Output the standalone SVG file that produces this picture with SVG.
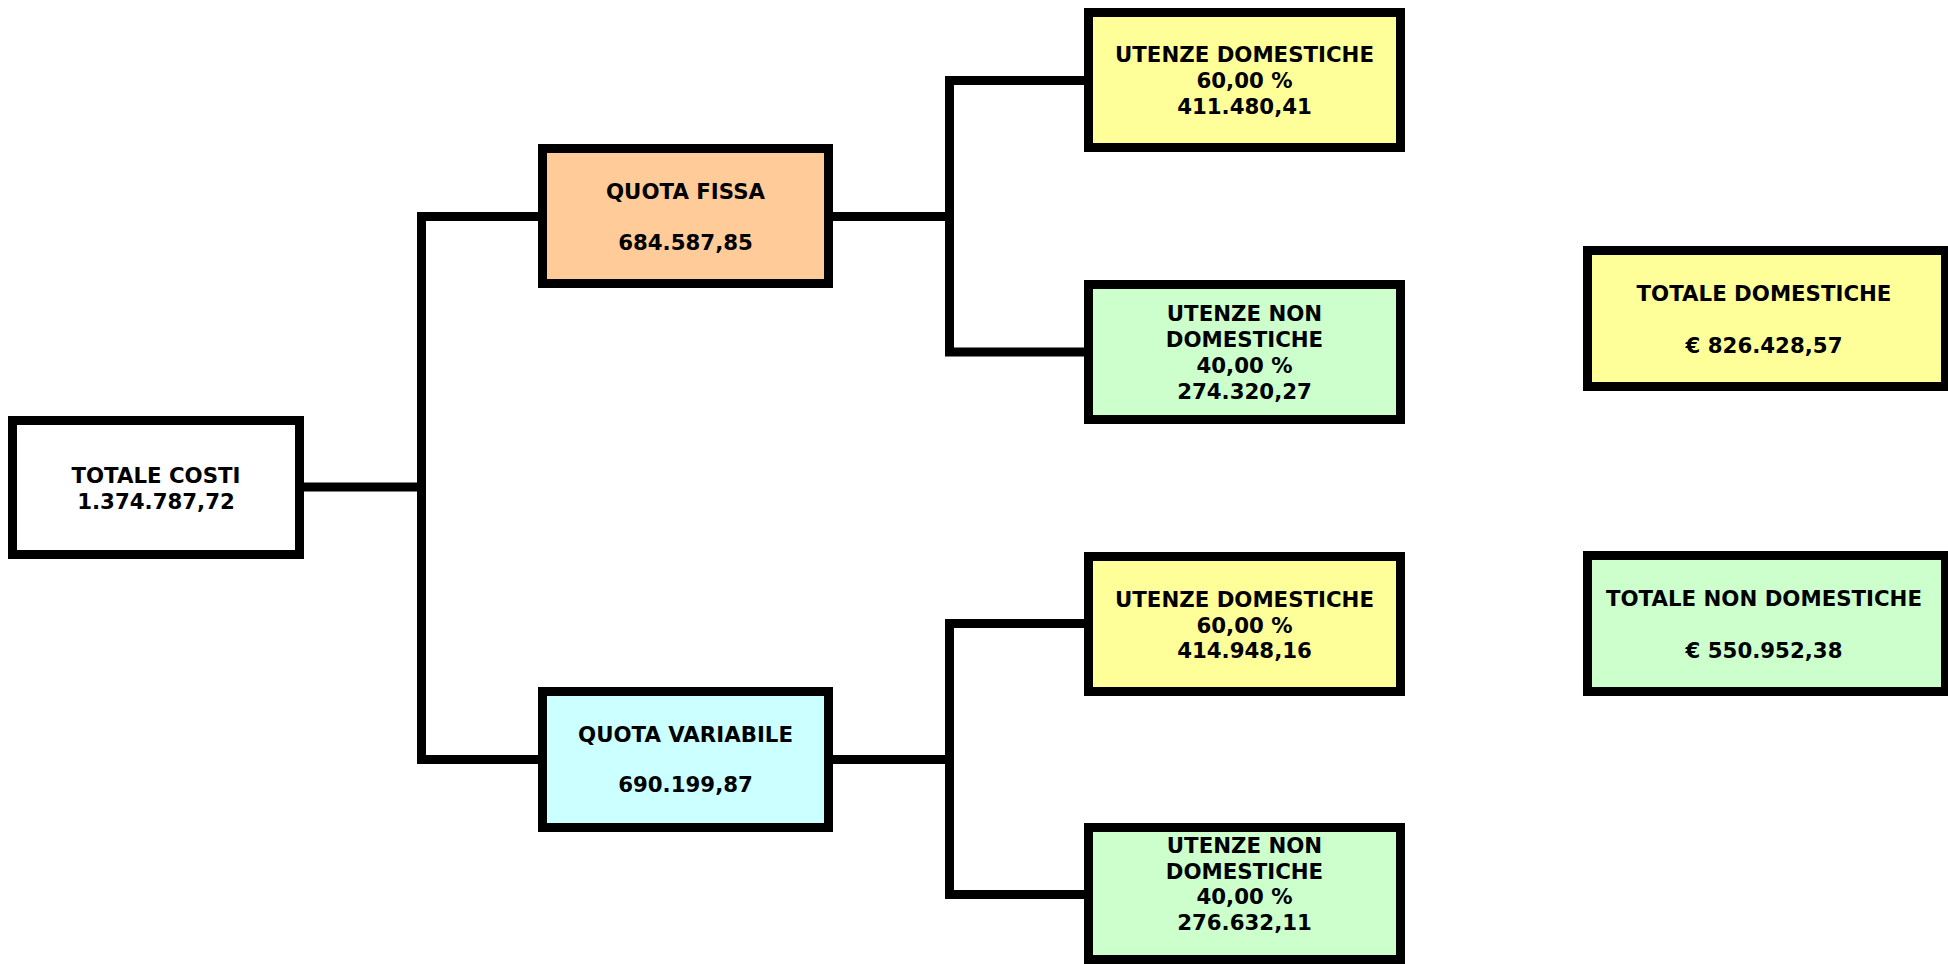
<svg xmlns="http://www.w3.org/2000/svg" width="1948" height="964" viewBox="0 0 1948 964">
<style>
.box{stroke:#000;stroke-width:9;}
.w{fill:#FFFFFF}.o{fill:#FFCC99}.c{fill:#CCFFFF}.y{fill:#FFFF99}.g{fill:#CCFFCC}
text{font-family:"DejaVu Sans",Verdana,sans-serif;font-weight:bold;font-size:21.3px;fill:#000;text-anchor:middle}
.ln{fill:none;stroke:#000;stroke-width:9;stroke-linejoin:miter;stroke-linecap:butt}
</style>
<rect width="1948" height="964" fill="#FFFFFF"/>
<g id="connectors">
<path class="ln" d="M304,487 H421.5"/>
<path class="ln" d="M538,216.5 H421.5 V759.5 H538"/>
<path class="ln" d="M833,216.5 H949.5"/>
<path class="ln" d="M1084,80.5 H949.5 V352 H1084"/>
<path class="ln" d="M833,759.5 H949.5"/>
<path class="ln" d="M1084,623.5 H949.5 V894.5 H1084"/>
</g>
<g id="totale-costi">
<rect class="box w" x="12.5" y="420.5" width="287" height="134"/>
<text x="156" y="483">TOTALE COSTI</text>
<text x="156" y="509">1.374.787,72</text>
</g>
<g id="quota-fissa">
<rect class="box o" x="542.5" y="148.5" width="286" height="135"/>
<text x="685.5" y="199">QUOTA FISSA</text>
<text x="685.5" y="250">684.587,85</text>
</g>
<g id="quota-variabile">
<rect class="box c" x="542.5" y="691.5" width="286" height="136"/>
<text x="685.5" y="742">QUOTA VARIABILE</text>
<text x="685.5" y="792">690.199,87</text>
</g>
<g id="fissa-domestiche">
<rect class="box y" x="1088.5" y="12.5" width="312" height="135"/>
<text x="1244.5" y="62">UTENZE DOMESTICHE</text>
<text x="1244.5" y="88">60,00 %</text>
<text x="1244.5" y="114">411.480,41</text>
</g>
<g id="fissa-non-domestiche">
<rect class="box g" x="1088.5" y="284.5" width="312" height="135"/>
<text x="1244.5" y="321">UTENZE NON</text>
<text x="1244.5" y="347">DOMESTICHE</text>
<text x="1244.5" y="373">40,00 %</text>
<text x="1244.5" y="399">274.320,27</text>
</g>
<g id="variabile-domestiche">
<rect class="box y" x="1088.5" y="556.5" width="312" height="135"/>
<text x="1244.5" y="607">UTENZE DOMESTICHE</text>
<text x="1244.5" y="633">60,00 %</text>
<text x="1244.5" y="658">414.948,16</text>
</g>
<g id="variabile-non-domestiche">
<rect class="box g" x="1088.5" y="827.5" width="312" height="132"/>
<text x="1244.5" y="853">UTENZE NON</text>
<text x="1244.5" y="879">DOMESTICHE</text>
<text x="1244.5" y="904">40,00 %</text>
<text x="1244.5" y="930">276.632,11</text>
</g>
<g id="totale-domestiche">
<rect class="box y" x="1587.5" y="250.5" width="358" height="136"/>
<text x="1764" y="301">TOTALE DOMESTICHE</text>
<text x="1764" y="353">€ 826.428,57</text>
</g>
<g id="totale-non-domestiche">
<rect class="box g" x="1587.5" y="555.5" width="358" height="136"/>
<text x="1764" y="606">TOTALE NON DOMESTICHE</text>
<text x="1764" y="658">€ 550.952,38</text>
</g>
</svg>
